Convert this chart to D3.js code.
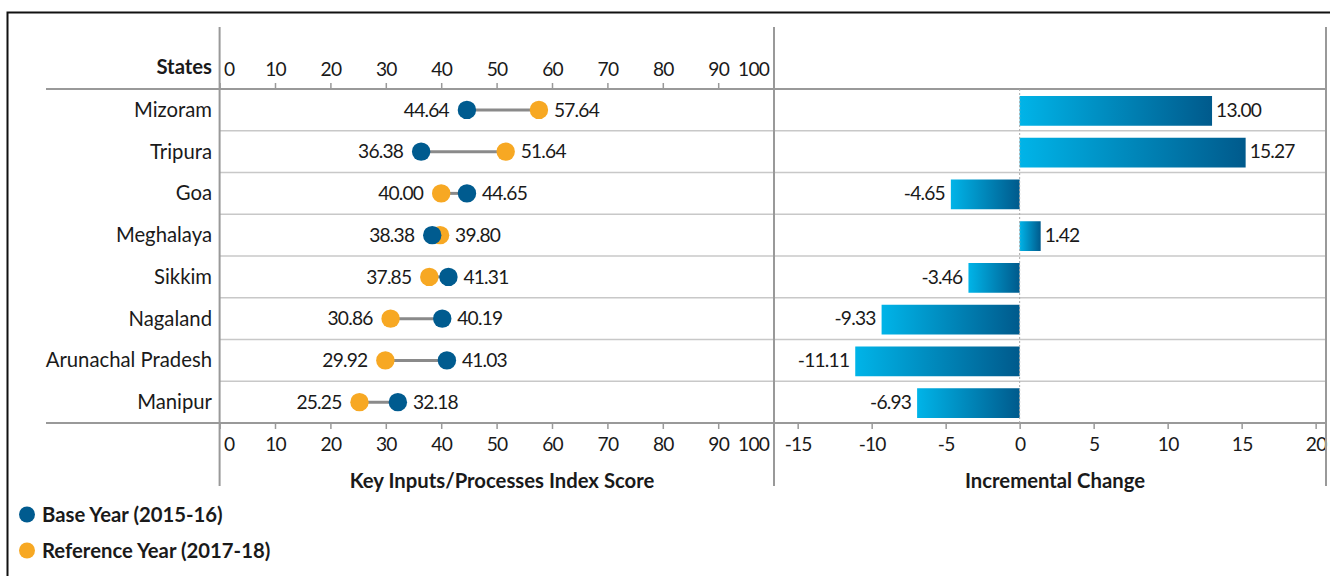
<!DOCTYPE html>
<html>
<head>
<meta charset="utf-8">
<script src="https://cdn.jsdelivr.net/npm/d3@7"></script>
<style>
  body { margin: 0; background: #fff; }
  svg text { font-family: Lato, "Open Sans", sans-serif; fill: #1a1a1a; }
  .bold { font-weight: 700; }
  .num { letter-spacing: -0.8px; }
</style>
</head>
<body>
<div id="chart"></div>
<script>
    // values
    var states = ["Mizoram", "Tripura", "Goa", "Meghalaya", "Sikkim", "Nagaland", "Arunachal Pradesh", "Manipur"];
    var baseYear = [44.64, 36.38, 44.65, 38.38, 41.31, 40.19, 41.03, 32.18];
    var refYear = [57.64, 51.64, 40.00, 39.80, 37.85, 30.86, 29.92, 25.25];
    var incChange = [13.00, 15.27, -4.65, 1.42, -3.46, -9.33, -11.11, -6.93];
    var scoreTicks = [0, 10, 20, 30, 40, 50, 60, 70, 80, 90, 100];
    var changeTicks = [-15, -10, -5, 0, 5, 10, 15, 20];
    var legendLabels = ["Base Year (2015-16)", "Reference Year (2017-18)"];

(function () {
    "use strict";

    var blue = "#005b8f", orange = "#f7a823";
    var fontSize = 20.3, numSize = 19.2;

    var width = 1330, height = 576;
    var topY = 89, bottomY = 423;
    var leftX = 219.6, midX = 774, rightX = 1326;

    var svg = d3.select("#chart").append("svg")
        .attr("width", width)
        .attr("height", height);

    var defs = svg.append("defs");
    var grad = defs.append("linearGradient")
        .attr("id", "barGrad")
        .attr("x1", 0).attr("x2", 1).attr("y1", 0).attr("y2", 0);
    grad.append("stop").attr("offset", "0%").attr("stop-color", "#00b4e8");
    grad.append("stop").attr("offset", "100%").attr("stop-color", "#005a8c");

    // outer frame
    svg.append("rect")
        .attr("x", 7.5).attr("y", 12.5)
        .attr("width", 1340).attr("height", 700)
        .attr("fill", "none")
        .attr("stroke", "#111")
        .attr("stroke-width", 2);

    var y = d3.scaleBand()
        .domain(states)
        .range([topY, bottomY]);

    var xScore = d3.scaleLinear()
        .domain([0, 100])
        .range([leftX, 773.6]);

    var xInc = d3.scaleLinear()
        .domain([-16.6, 20.7])
        .range([midX, rightX]);

    // row separators
    svg.append("g").selectAll("line")
        .data(states.slice(1))
        .enter().append("line")
        .attr("x1", leftX).attr("x2", rightX)
        .attr("y1", function (d) { return y(d); })
        .attr("y2", function (d) { return y(d); })
        .attr("stroke", "#c8c8c8")
        .attr("stroke-width", 1.5);

    // axes
    function styleAxis(g) {
        g.select(".domain").remove();
        g.selectAll(".tick line").attr("stroke", "#999").attr("stroke-width", 1.5);
        g.selectAll(".tick text")
            .attr("class", "num")
            .attr("font-size", numSize)
            .attr("font-family", null)
            .attr("fill", "#1a1a1a");
    }

    function edgeLabels(g) {
        g.selectAll(".tick text")
            .attr("text-anchor", function (d) { return d === 0 ? "start" : d === 100 ? "end" : "middle"; })
            .attr("dx", function (d) { return d === 0 ? 4 : d === 100 ? -5 : 0; });
    }

    svg.append("g")
        .attr("transform", "translate(0," + topY + ")")
        .call(d3.axisTop(xScore).tickValues(scoreTicks).tickSize(6).tickPadding(7))
        .call(styleAxis)
        .call(edgeLabels);

    svg.append("g")
        .attr("transform", "translate(0," + bottomY + ")")
        .call(d3.axisBottom(xScore).tickValues(scoreTicks).tickSize(6).tickPadding(8))
        .call(styleAxis)
        .call(edgeLabels);

    svg.append("g")
        .attr("transform", "translate(0," + bottomY + ")")
        .call(d3.axisBottom(xInc).tickValues(changeTicks).tickSize(6).tickPadding(8)
            .tickFormat(function (d) { return String(d); }))
        .call(styleAxis);

    // frame lines
    var lines = svg.append("g").attr("stroke", "#999").attr("stroke-width", 2);
    [leftX, midX, rightX].forEach(function (x) {
        lines.append("line").attr("x1", x).attr("x2", x).attr("y1", 27).attr("y2", 486);
    });
    [topY, bottomY].forEach(function (yy) {
        lines.append("line").attr("x1", 46).attr("x2", rightX).attr("y1", yy).attr("y2", yy);
    });

    // state labels
    svg.append("text")
        .attr("class", "bold")
        .attr("x", 212).attr("y", 74)
        .attr("text-anchor", "end")
        .attr("font-size", fontSize)
        .text("States");

    svg.append("g").selectAll("text")
        .data(states)
        .enter().append("text")
        .attr("x", 212)
        .attr("y", function (d) { return y(d) + y.bandwidth() / 2; })
        .attr("dy", "0.35em")
        .attr("text-anchor", "end")
        .attr("font-size", fontSize)
        .text(function (d) { return d; });

    // dumbbells
    var rows = states.map(function (s, i) {
        return { st: s, base: baseYear[i], ref: refYear[i], inc: incChange[i] };
    });

    var dumb = svg.append("g").selectAll("g")
        .data(rows)
        .enter().append("g")
        .attr("transform", function (d) { return "translate(0," + (y(d.st) + y.bandwidth() / 2) + ")"; });

    dumb.append("line")
        .attr("x1", function (d) { return xScore(d.base); })
        .attr("x2", function (d) { return xScore(d.ref); })
        .attr("stroke", "#8a8a8a")
        .attr("stroke-width", 3);

    dumb.append("circle")
        .attr("cx", function (d) { return xScore(d.ref); })
        .attr("r", 9.2)
        .attr("fill", orange);

    dumb.append("circle")
        .attr("cx", function (d) { return xScore(d.base); })
        .attr("r", 9.2)
        .attr("fill", blue);

    dumb.append("text")
        .attr("class", "num")
        .attr("x", function (d) { return xScore(Math.min(d.base, d.ref)) - 18; })
        .attr("dy", "0.35em")
        .attr("text-anchor", "end")
        .attr("font-size", numSize)
        .text(function (d) { return Math.min(d.base, d.ref).toFixed(2); });

    dumb.append("text")
        .attr("class", "num")
        .attr("x", function (d) { return xScore(Math.max(d.base, d.ref)) + 15; })
        .attr("dy", "0.35em")
        .attr("font-size", numSize)
        .text(function (d) { return Math.max(d.base, d.ref).toFixed(2); });

    // incremental bars
    var barPad = 7;
    svg.append("g").selectAll("rect")
        .data(rows)
        .enter().append("rect")
        .attr("x", function (d) { return xInc(Math.min(0, d.inc)); })
        .attr("y", function (d) { return y(d.st) + barPad; })
        .attr("width", function (d) { return Math.abs(xInc(d.inc) - xInc(0)); })
        .attr("height", y.bandwidth() - 2 * barPad + 2)
        .attr("fill", "url(#barGrad)");

    svg.append("line")
        .attr("x1", xInc(0)).attr("x2", xInc(0))
        .attr("y1", topY).attr("y2", bottomY)
        .attr("stroke", "#aaa")
        .attr("stroke-width", 1)
        .attr("stroke-dasharray", "2,2");

    svg.append("g").selectAll("text")
        .data(rows)
        .enter().append("text")
        .attr("class", "num")
        .attr("x", function (d) { return d.inc >= 0 ? xInc(d.inc) + 4 : xInc(d.inc) - 6; })
        .attr("y", function (d) { return y(d.st) + y.bandwidth() / 2; })
        .attr("dy", "0.35em")
        .attr("text-anchor", function (d) { return d.inc >= 0 ? "start" : "end"; })
        .attr("font-size", numSize)
        .text(function (d) { return d.inc.toFixed(2); });

    // axis titles
    svg.append("text")
        .attr("class", "bold")
        .attr("x", 502).attr("y", 488)
        .attr("text-anchor", "middle")
        .attr("font-size", fontSize)
        .text("Key Inputs/Processes Index Score");

    svg.append("text")
        .attr("class", "bold")
        .attr("x", 1055).attr("y", 488)
        .attr("text-anchor", "middle")
        .attr("font-size", fontSize)
        .text("Incremental Change");

    // legend
    var legend = svg.append("g").selectAll("g")
        .data(legendLabels)
        .enter().append("g")
        .attr("transform", function (d, i) { return "translate(27," + (514.5 + i * 36) + ")"; });

    legend.append("circle")
        .attr("r", 8)
        .attr("fill", function (d, i) { return i === 0 ? blue : orange; });

    legend.append("text")
        .attr("class", "bold")
        .attr("x", 15)
        .attr("dy", "0.35em")
        .attr("font-size", fontSize)
        .text(function (d) { return d; });
})();
</script>
</body>
</html>
